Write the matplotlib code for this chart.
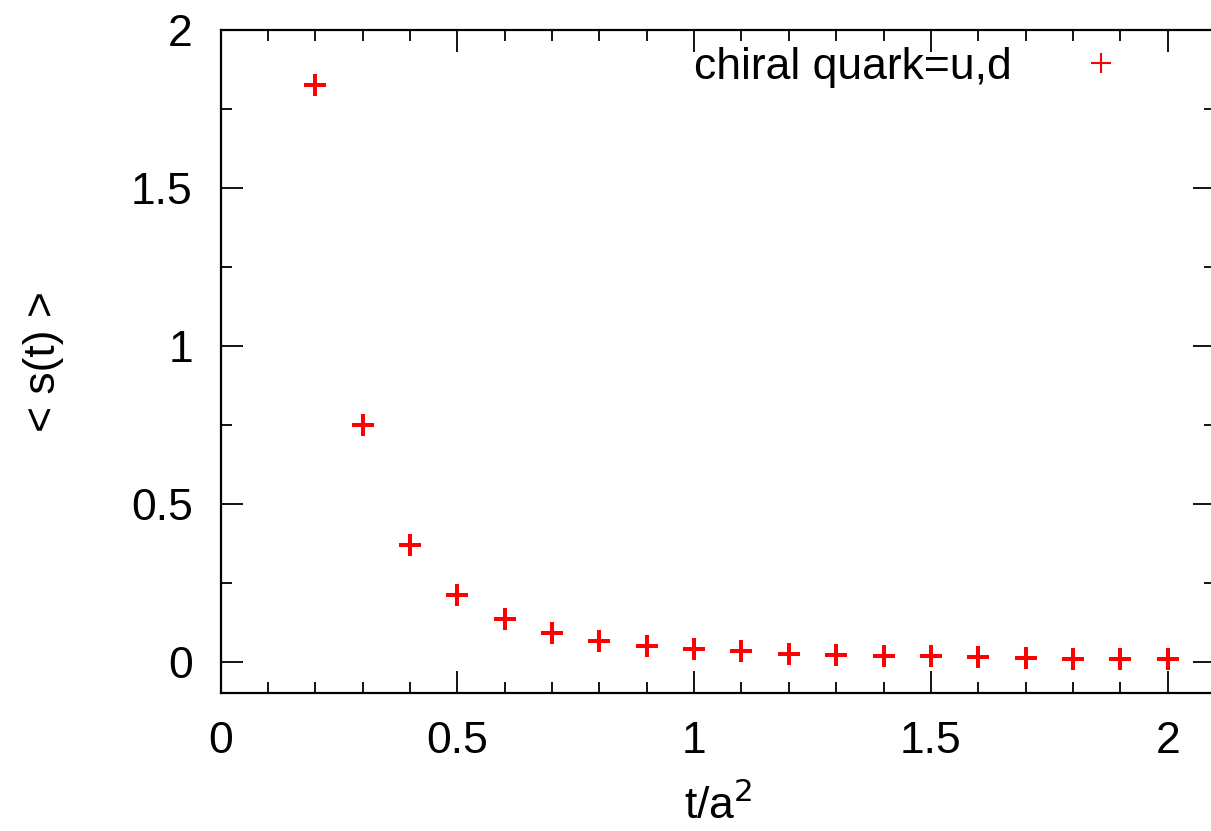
import numpy as np
import matplotlib
matplotlib.use("Agg")
import matplotlib.pyplot as plt
from matplotlib.lines import Line2D
from matplotlib.ticker import MultipleLocator

# flow time and <s(t)>
t = [0.2, 0.3, 0.4, 0.5, 0.6, 0.7, 0.8, 0.9, 1.0, 1.1, 1.2, 1.3, 1.4, 1.5, 1.6, 1.7, 1.8, 1.9, 2.0]
s = [1.826, 0.750, 0.370, 0.212, 0.135, 0.091, 0.066, 0.050, 0.040, 0.033, 0.025, 0.022, 0.019,
     0.017, 0.015, 0.012, 0.010, 0.009, 0.008]
series_label = "chiral quark=u,d"

plt.rcParams['font.family'] = ['Liberation Sans', 'DejaVu Sans']

fig = plt.figure(figsize=(12.11, 8.31), dpi=100)
ax = fig.add_axes([0.1822, 0.1657, 0.8211, 0.7982])

ax.plot(t, s, linestyle='none', marker='+', color='#ff0000', markersize=15.5, markeredgewidth=2.9)

ax.set_xlim(0, 2.1)
ax.set_ylim(-0.1, 2)
ax.xaxis.set_minor_locator(MultipleLocator(0.1))
ax.yaxis.set_minor_locator(MultipleLocator(0.25))
ax.set_xticks([0, 0.5, 1, 1.5, 2])
ax.set_xticklabels(["0", "0.5", "1", "1.5", "2"])
ax.set_yticks([0, 0.5, 1, 1.5, 2])
ax.set_yticklabels(["0", "0.5", "1", "1.5", "2"])

ax.tick_params(which='both', direction='in', top=True, right=True, width=1.3, labelsize=32)
ax.tick_params(which='major', length=16, pad=20)
ax.tick_params(which='minor', length=8)
for sp in ax.spines.values():
    sp.set_linewidth(1.6)

ax.set_xlabel("t/a$^2$", fontsize=32, labelpad=15)
ax.set_ylabel("< s(t) >", fontsize=32, labelpad=48)

handle = Line2D([], [], linestyle='none', marker='+', color='#ff0000', markersize=15, markeredgewidth=1.5)
leg = ax.legend([handle], [series_label], loc='upper right', frameon=False, fontsize=32,
                markerfirst=False, handletextpad=1.0, borderpad=0, borderaxespad=0,
                bbox_to_anchor=(0.93, 0.975))

fig.savefig("out.png", dpi=100)
